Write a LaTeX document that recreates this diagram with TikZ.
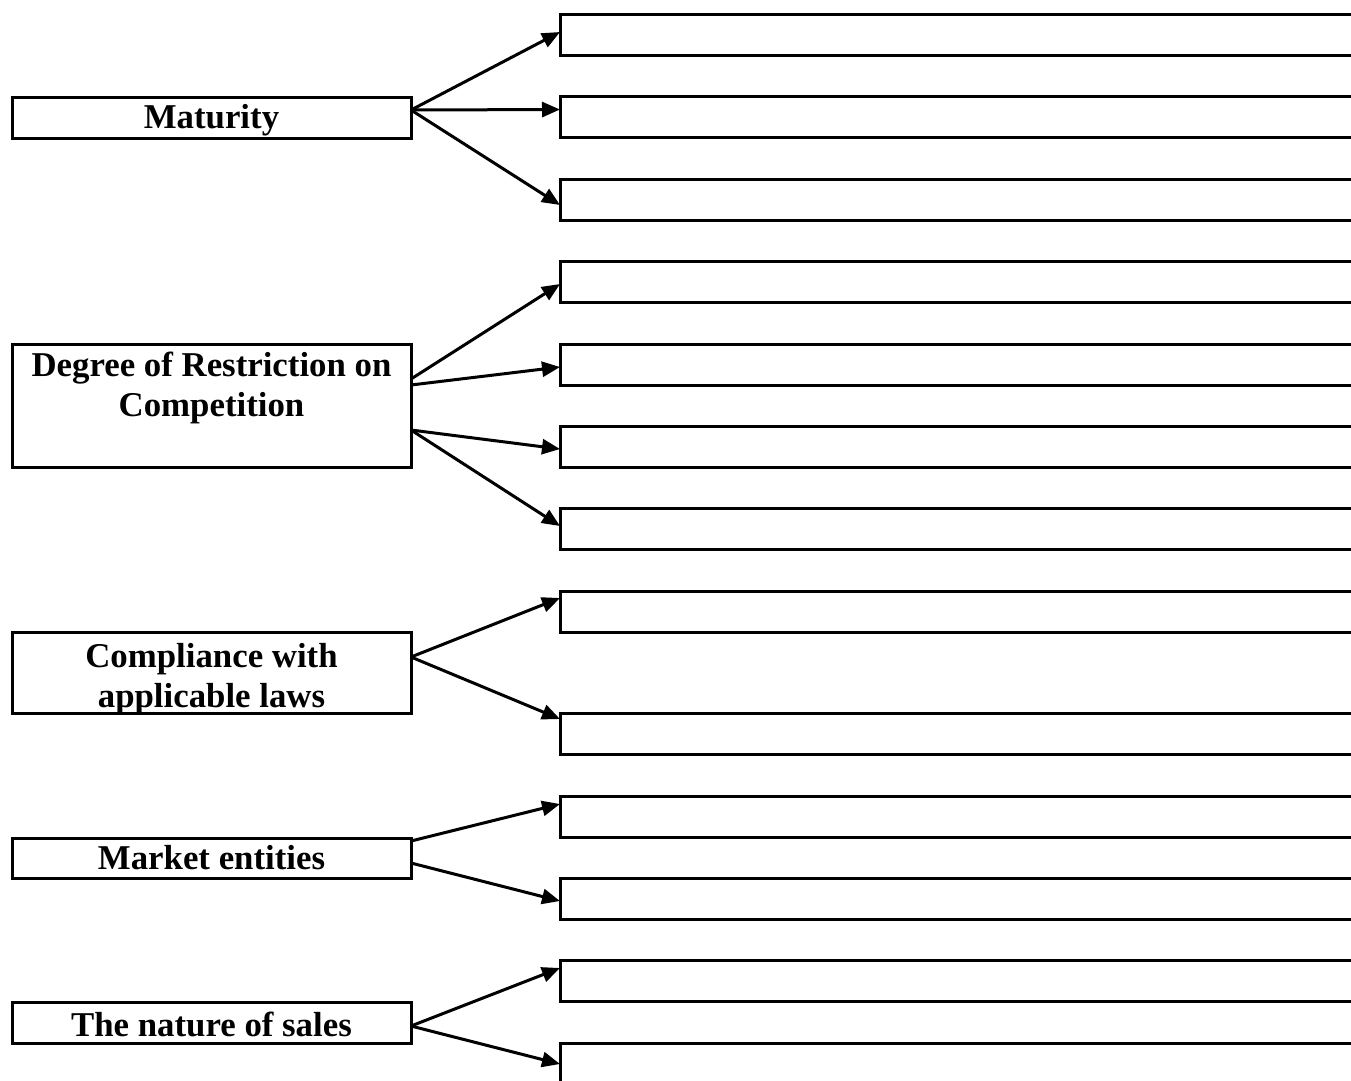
\documentclass[tikz,border=0pt]{standalone}
\usepackage{fontspec}
\setmainfont{Liberation Serif}
\usetikzlibrary{arrows.meta}

\begin{document}
\begin{tikzpicture}[x=1pt,y=-1pt,
  box/.style={draw, line width=3pt, inner sep=0pt, outer sep=0pt, minimum height=41pt},
  catbox/.style={box, minimum width=399pt},
  slot/.style={box, minimum width=900pt, anchor=west},
  label/.style={font=\bfseries\fontsize{34.8}{40}\selectfont, align=center, inner sep=0pt},
  link/.style={line width=3pt, -{Triangle[length=18pt,width=15pt]}}]

\useasboundingbox (0,0) rectangle (1351,1080);
\clip (0,0) rectangle (1351,1080);

% category boxes on the left
\node[catbox] (mat) at (211.5,117.5) {};
\node[catbox, minimum height=123pt] (deg) at (211.5,405.5) {};
\node[catbox, minimum height=81pt] (comp) at (211.5,672.5) {};
\node[catbox, minimum height=40pt] (mkt) at (211.5,858) {};
\node[catbox] (nat) at (211.5,1022.5) {};

% their captions
\node[label, anchor=base] (matT) at (211.5,128) {Maturity};
\node[label, anchor=north] (degT) at (211.5,352) {Degree of Restriction on\\Competition};
\node[label, anchor=north] (compT) at (211.5,643) {Compliance with\\applicable laws};
\node[label, anchor=base] (mktT) at (211.5,869) {Market entities};
\node[label, anchor=base] (natT) at (211.5,1036) {The nature of sales};

% empty answer boxes on the right
\node[slot] (r1) at (560,34.5) {};
\node[slot] (r2) at (560,117) {};
\node[slot] (r3) at (560,199.5) {};
\node[slot] (r4) at (560,282) {};
\node[slot] (r5) at (560,364.5) {};
\node[slot] (r6) at (560,446.5) {};
\node[slot] (r7) at (560,528.5) {};
\node[slot] (r8) at (560,611.5) {};
\node[slot] (r9) at (560,733.5) {};
\node[slot] (r10) at (560,816.5) {};
\node[slot] (r11) at (560,898.5) {};
\node[slot] (r12) at (560,981) {};
\node[slot] (r13) at (560,1063.5) {};

% connectors
\draw[link] ([yshift=7.5pt]mat.east) -- ([yshift=2.5pt]r1.west);
\draw[link] ([yshift=7.5pt]mat.east) -- ([yshift=7.5pt]r2.west);
\draw[link] ([yshift=7.5pt]mat.east) -- ([yshift=-5.5pt]r3.west);

\draw[link] ([yshift=26.5pt]deg.east) -- ([yshift=-2pt]r4.west);
\draw[link] ([yshift=20.5pt]deg.east) -- ([yshift=-2.5pt]r5.west);
\draw[link] ([yshift=-24.5pt]deg.east) -- ([yshift=-2.5pt]r6.west);
\draw[link] ([yshift=-24.5pt]deg.east) -- ([yshift=2.5pt]r7.west);

\draw[link] ([yshift=15.5pt]comp.east) -- ([yshift=13.5pt]r8.west);
\draw[link] ([yshift=15.5pt]comp.east) -- ([yshift=14.5pt]r9.west);

\draw[link] ([yshift=17pt]mkt.east) -- ([yshift=12.5pt]r10.west);
\draw[link] ([yshift=-5pt]mkt.east) -- ([yshift=-2.5pt]r11.west);

\draw[link] ([yshift=-3.5pt]nat.east) -- ([yshift=13pt]r12.west);
\draw[link] ([yshift=-3.5pt]nat.east) -- ([yshift=-0.5pt]r13.west);
\end{tikzpicture}
\end{document}
